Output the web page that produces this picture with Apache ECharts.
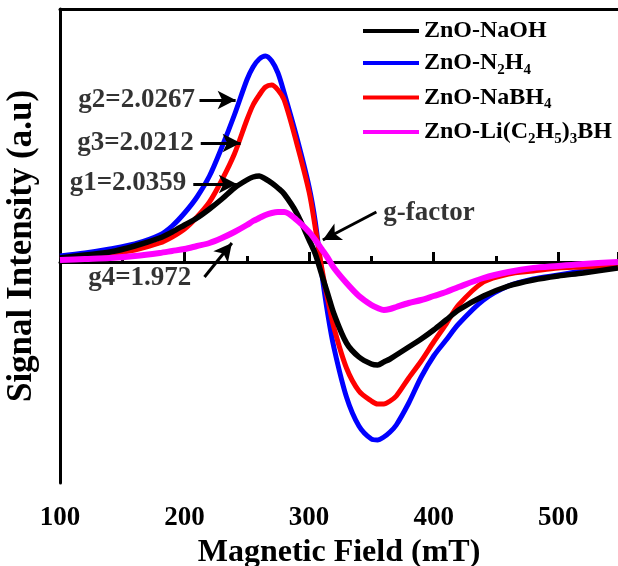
<!DOCTYPE html>
<html>
<head>
<meta charset="utf-8">
<script src="https://cdn.jsdelivr.net/npm/echarts@6/dist/echarts.min.js"></script>
<style>
  html, body { margin: 0; padding: 0; background: #fff; }
  #chart { width: 618px; height: 566px; }
</style>
</head>
<body>
<div id="chart"></div>
<script>
// magnetic field (mT)
const fields = [100, 120, 140, 160, 180, 190, 200, 210, 220, 230, 240, 250, 255, 260, 265, 270, 275, 280, 290, 300, 305, 310, 315, 320, 330, 340, 350, 355, 360, 365, 370, 380, 390, 400, 410, 420, 440, 460, 480, 500, 520, 548];

// signal intensity (a.u)
const naoh = [4, 7, 10, 16, 24, 30, 37, 44, 53, 63, 74, 82, 85, 86, 83, 79, 74, 68, 49, 22, 8, -12, -32, -52, -81, -95, -102, -103, -100, -97, -93, -85, -77, -68, -58, -48, -34, -24, -18, -14, -11, -6];
const n2h4 = [6, 9, 13, 18, 27, 36, 49, 65, 86, 115, 147, 182, 195, 203, 206, 201, 189, 169, 125, 75, 40, -10, -52, -86, -135, -164, -177, -178, -175, -170, -163, -141, -115, -94, -78, -62, -38, -24, -17, -13, -9, -5];
const nabh4 = [4, 6, 8, 12, 19, 25, 33, 45, 60, 82, 108, 142, 157, 167, 175, 177, 172, 162, 119, 70, 34, -5, -38, -66, -106, -129, -139, -142, -142, -139, -134, -116, -99, -80, -62, -43, -20, -12, -9, -6, -5, -3];
const libh = [2, 3, 4, 6, 9, 11, 13, 16, 19, 24, 30, 37, 41, 44, 47, 49, 50, 50, 42, 30, 22, 13, 4, -6, -21, -34, -43, -46, -48, -47, -45, -41, -38, -34, -30, -25, -16, -10, -6, -4, -2, 0];

const names = ['ZnO-NaOH', 'ZnO-N2H4', 'ZnO-NaBH4', 'ZnO-Li(C2H5)3BH'];
const legendText = {
  'ZnO-NaOH': 'ZnO-NaOH',
  'ZnO-N2H4': 'ZnO-N{sub|2}H{sub|4}',
  'ZnO-NaBH4': 'ZnO-NaBH{sub|4}',
  'ZnO-Li(C2H5)3BH': 'ZnO-Li(C{sub|2}H{sub|5}){sub|3}BH'
};
const colors = ['#000000', '#0000ff', '#ff0000', '#ff00ff'];

// annotations: label anchor and arrow (tail -> head) in data space
const annoText = ['g2=2.0267', 'g3=2.0212', 'g1=2.0359', 'g4=1.972', 'g-factor'];
const annoAt = [[210, 162], [209, 119], [203, 79], [207, -16], [358, 49]];
const annoSide = ['left', 'left', 'left', 'left', 'right'];
const arrows = [
  [[212, 162], [241, 162]],
  [[213, 119], [245, 119]],
  [[207, 78], [242, 78]],
  [[216, -15], [238, 19]],
  [[354, 50], [311, 22]]
];

const FONT = 'Liberation Serif';

function pairs(ys) {
  return fields.map((x, i) => [x, ys[i]]);
}

const chart = echarts.init(document.getElementById('chart'));

const lineSeries = [naoh, n2h4, nabh4, libh].map((ys, i) => ({
  name: names[i],
  type: 'line',
  data: pairs(ys),
  smooth: 0.3,
  showSymbol: false,
  symbol: 'none',
  color: colors[i],
  lineStyle: { width: [5.5, 5, 5, 6][i], color: colors[i] },
  z: [3, 1, 2, 4][i]
}));

chart.setOption({
  animation: false,
  grid: { left: 60, right: 0, top: 9, bottom: 83, show: false, outerBoundsMode: 'none', containLabel: false },
  legend: {
    data: names,
    orient: 'vertical',
    left: 358,
    top: 14,
    itemWidth: 56,
    itemHeight: 4,
    icon: 'rect',
    itemGap: 8,
    formatter: n => legendText[n],
    textStyle: {
      fontFamily: FONT,
      fontWeight: 'bold',
      fontSize: 24,
      color: '#000',
      rich: {
        sub: { fontFamily: FONT, fontWeight: 'bold', fontSize: 15, color: '#000', padding: [14, 0, 0, 0] }
      }
    }
  },
  xAxis: [{
    type: 'value',
    min: 100,
    max: 548,
    interval: 100,
    name: 'Magnetic Field (mT)',
    nameLocation: 'middle',
    nameGap: 50,
    nameTextStyle: { fontFamily: FONT, fontWeight: 'bold', fontSize: 32, color: '#000' },
    axisLine: { show: true, lineStyle: { color: '#000', width: 3 } },
    axisTick: { show: true, inside: true, length: 10, lineStyle: { color: '#000', width: 3 } },
    minorTick: { show: true, splitNumber: 2, length: 6, lineStyle: { color: '#000', width: 3 } },
    axisLabel: {
      margin: 22,
      fontFamily: FONT, fontWeight: 'bold', fontSize: 27, color: '#000',
      formatter: v => (v % 100 === 0 && v <= 500 ? String(v) : '')
    },
    splitLine: { show: false }
  }, {
    type: 'value',
    position: 'top',
    min: 100,
    max: 548,
    axisLine: { show: true, lineStyle: { color: '#000', width: 3 } },
    axisTick: { show: false },
    axisLabel: { show: false },
    splitLine: { show: false }
  }],
  yAxis: {
    type: 'value',
    min: -221,
    max: 253,
    name: 'Signal Intensity (a.u)',
    nameLocation: 'middle',
    nameGap: 21,
    nameTextStyle: { fontFamily: FONT, fontWeight: 'bold', fontSize: 35, color: '#000' },
    axisLine: { show: true, lineStyle: { color: '#000', width: 3 } },
    axisTick: { show: false },
    axisLabel: { show: false },
    splitLine: { show: false }
  },
  series: lineSeries.concat([{
    name: 'anno',
    type: 'scatter',
    symbolSize: 0,
    silent: true,
    z: 10,
    data: annoAt.map((p, i) => ({
      value: p,
      label: {
        show: true,
        position: annoSide[i],
        distance: 2,
        formatter: annoText[i],
        fontFamily: FONT, fontWeight: 'bold', fontSize: 27, color: '#000'
      }
    })),
    markLine: {
      silent: true,
      symbol: ['none', 'arrow'],
      symbolSize: [14, 18],
      label: { show: false },
      lineStyle: { color: '#000', width: 3, type: 'solid' },
      data: arrows.map(a => [{ coord: a[0] }, { coord: a[1] }])
    }
  }])
});
</script>
</body>
</html>
